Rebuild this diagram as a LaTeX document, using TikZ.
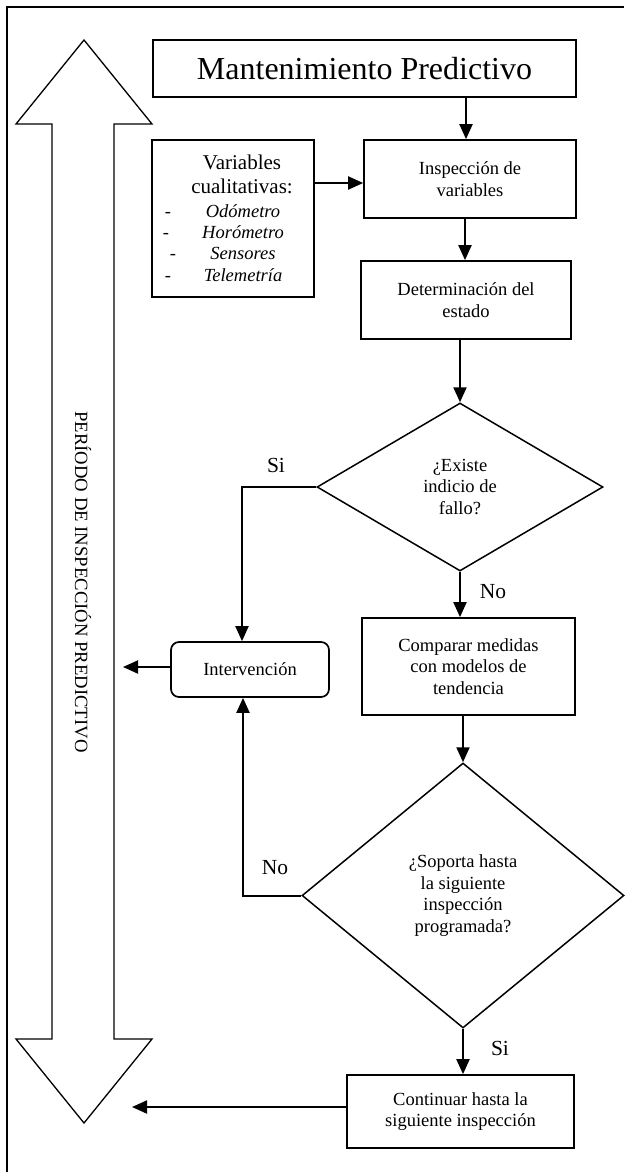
\documentclass[tikz,border=0pt]{standalone}
\usepackage{fontspec}
\setmainfont{Liberation Serif}
\usetikzlibrary{shapes.geometric,arrows.meta}
\begin{document}
\begin{tikzpicture}[x=1pt,y=-1pt,
  box/.style={draw,line width=1.7pt,inner sep=0pt,align=center,font=\fontsize{18.5}{21.5}\selectfont},
  dia/.style={draw,diamond,line width=1.5pt,inner sep=0pt,align=center,font=\fontsize{18.5}{21.5}\selectfont},
  conn/.style={line width=2pt,-{Triangle[length=15pt,width=13pt]}},
  lbl/.style={font=\fontsize{21.5}{24}\selectfont,inner sep=0pt},
  vtxt/.style={font=\fontsize{21}{24}\selectfont,inner sep=0pt,anchor=base},
  itm/.style={font=\fontsize{18.5}{21}\selectfont\itshape,inner sep=0pt,anchor=base},
  dsh/.style={font=\fontsize{18.5}{21}\selectfont,inner sep=0pt,anchor=base},
]
\useasboundingbox (0,0) rectangle (626,1172);
% frame
\draw[line width=1.5pt] (624,7) -- (7,7) -- (7,1172);
% double arrow
\draw[line width=1.3pt] (84,40) -- (16,124) -- (52,124) -- (52,1039) -- (16,1039) -- (84,1123)
  -- (152,1039) -- (114,1039) -- (114,124) -- (152,124) -- cycle;
\node[rotate=-90,font=\fontsize{18.7}{20}\selectfont,inner sep=0pt] (period) at (83,582) {PERÍODO DE INSPECCIÓN PREDICTIVO};
% nodes
\node[box,minimum width=423pt,minimum height=57pt,font=\fontsize{32}{36}\selectfont] (title) at (364.5,68.5) {Mantenimiento Predictivo};
\node[box,minimum width=162pt,minimum height=157pt] (vars) at (233,218.5) {};
\node[vtxt] (v1) at (242,169) {Variables};
\node[vtxt] (v2) at (242,193) {cualitativas:};
\node[dsh] (d1a) at (168,217) {-};
\node[dsh] (d2a) at (166,238) {-};
\node[dsh] (d3a) at (173,259) {-};
\node[dsh] (d4a) at (168,281) {-};
\node[itm] (i1) at (243,217) {Odómetro};
\node[itm] (i2) at (243,238) {Horómetro};
\node[itm] (i3) at (243,259) {Sensores};
\node[itm] (i4) at (243,281) {Telemetría};
\node[box,minimum width=212pt,minimum height=78pt] (insp) at (470,179) {Inspección de\\variables};
\node[box,minimum width=210pt,minimum height=78pt] (det) at (466,300) {Determinación del\\estado};
\node[dia,minimum width=286pt,minimum height=168pt] (dA) at (460,487) {¿Existe\\indicio de\\fallo?};
\node[box,rounded corners=8pt,minimum width=158pt,minimum height=55pt] (interv) at (250,669.5) {Intervención};
\node[box,minimum width=213pt,minimum height=97pt] (comp) at (468.5,666.5) {Comparar medidas\\con modelos de\\tendencia};
\node[dia,minimum width=322pt,minimum height=265pt] (dB) at (463,895.5) {¿Soporta hasta\\la siguiente\\inspección\\programada?};
\node[box,minimum width=227pt,minimum height=73pt] (cont) at (460.5,1111.5) {Continuar hasta la\\siguiente inspección};
% labels
\node[lbl] (si1) at (276,465) {Si};
\node[lbl] (no1) at (493,592) {No};
\node[lbl] (no2) at (275,868) {No};
\node[lbl] (si2) at (500,1048) {Si};
% connectors
\coordinate (tipA) at (123,667);
\coordinate (tipB) at (132,1107);
\draw[conn] (466,0 |- title.south) -- (466,0 |- insp.north);
\draw[conn] (vars.east |- 0,183) -- (insp.west |- 0,183);
\draw[conn] (465,0 |- insp.south) -- (465,0 |- det.north);
\draw[conn] (dA.north |- det.south) -- (dA.north);
\draw[conn] (dA.west) -| (242,0 |- interv.north);
\draw[conn] (interv.west |- tipA) -- (tipA);
\draw[conn] (dA.south) -- (dA.south |- comp.north);
\draw[conn] (dB.north |- comp.south) -- (dB.north);
\draw[conn] (dB.west) -| (243,0 |- interv.south);
\draw[conn] (dB.south) -- (dB.south |- cont.north);
\draw[conn] (cont.west |- tipB) -- (tipB);
\end{tikzpicture}
\end{document}
